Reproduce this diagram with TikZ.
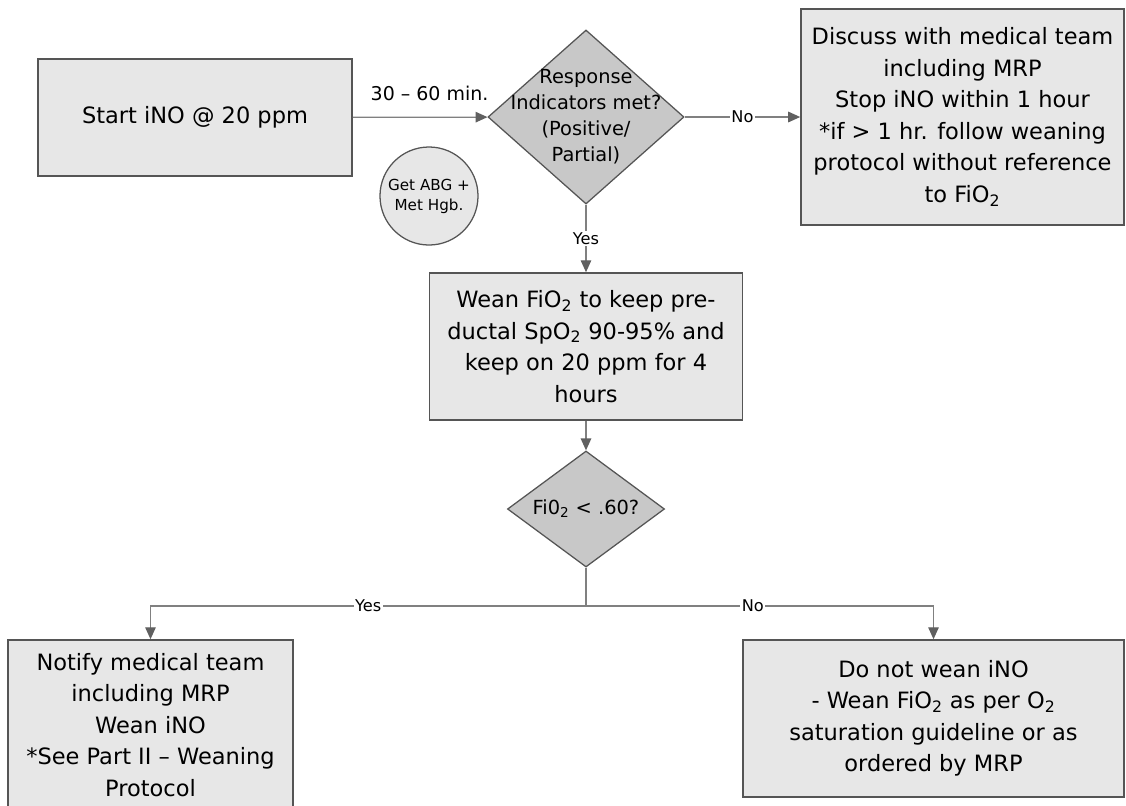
\documentclass[tikz,border=0pt]{standalone}
\usepackage{fontspec}
\setmainfont{DejaVu Sans}
\usetikzlibrary{arrows.meta,shapes.geometric}
\usepackage{xcolor}
\definecolor{boxgray}{RGB}{231,231,231}
\definecolor{diagray}{RGB}{200,200,200}
\definecolor{edgegray}{RGB}{85,85,85}
\definecolor{linegray}{RGB}{128,128,128}
\definecolor{tipgray}{RGB}{96,96,96}
\tikzset{
    stepbox/.style={
        draw=edgegray,line width=1.1pt,fill=boxgray,
        align=center,inner sep=0pt,
        font=\fontsize{16}{22.4}\selectfont
    },
    decision/.style={
        draw=edgegray,line width=0.9pt,fill=diagray,
        diamond,inner sep=0pt
    },
    dtext/.style={
        align=center,inner sep=0pt,
        font=\fontsize{13.8}{18.5}\selectfont
    },
    arrow/.style={
        -{Triangle[length=8.5pt,width=7.5pt,color=tipgray]},
        line width=0.9pt,draw=linegray
    },
    lbl/.style={
        font=\fontsize{11.5}{14}\selectfont,fill=white,inner sep=1pt
    }
}

\begin{document}
\begin{tikzpicture}[x=0.025cm,y=-0.025cm]

\useasboundingbox (0,0) rectangle (1126,805);
\clip (0,0) rectangle (1126,805);

\node[stepbox,minimum width=7.85cm,minimum height=2.925cm]
(start) at (195,117.5)
{Start iNO @ 20 ppm};

\node[decision,minimum width=4.9cm,minimum height=4.35cm,
label={[dtext]center:Response\\Indicators met?\\(Positive/\\Partial)}]
(d1) at (586,117) {};

\node[circle,draw=edgegray,line width=0.9pt,fill=boxgray,
minimum size=2.45cm,inner sep=0pt,align=center,
font=\fontsize{10.8}{14.2}\selectfont]
(abg) at (429,196)
{Get ABG +\\Met Hgb.};

\node[stepbox,minimum width=8.075cm,minimum height=5.4cm]
(discuss) at (962.5,117)
{
Discuss with medical team\\
including MRP\\
Stop iNO within 1 hour\\
*if > 1 hr. follow weaning\\
protocol without reference\\
to FiO\textsubscript{2}
};

\node[stepbox,minimum width=7.825cm,minimum height=3.675cm]
(wean) at (586,346.5)
{
Wean FiO\textsubscript{2} to keep pre-\\
ductal SpO\textsubscript{2} 90-95\% and\\
keep on 20 ppm for 4\\
hours
};

\node[decision,minimum width=3.925cm,minimum height=2.9cm,
label={[dtext]center:Fi0\textsubscript{2} < .60?}]
(d2) at (586,509) {};

\coordinate (j) at (586,606);

\node[stepbox,minimum width=7.125cm,minimum height=4.25cm]
(notify) at (150.5,725)
{
Notify medical team\\
including MRP\\
Wean iNO\\
*See Part II – Weaning\\
Protocol
};

\node[stepbox,minimum width=9.525cm,minimum height=3.925cm]
(donot) at (933.5,718.5)
{
Do not wean iNO\\
- Wean FiO\textsubscript{2} as per O\textsubscript{2}\\
saturation guideline or as\\
ordered by MRP
};

\draw[arrow] (start) -- node[pos=0.57,yshift=17pt,
font=\fontsize{13.5}{16}\selectfont] (time) {30 – 60 min.} (d1);
\draw[arrow] (d1) -- node[lbl] (no1) {No} (discuss);
\draw[arrow] (d1) -- node[lbl] (yes1) {Yes} (wean);
\draw[arrow] (wean) -- (d2);
\draw[line width=0.9pt,draw=linegray] (d2) -- (j);
\draw[arrow] (j) -| node[lbl,pos=0.25] (yes2) {Yes} (notify);
\draw[arrow] (j) -| node[lbl,pos=0.24] (no2) {No} (donot);

\end{tikzpicture}
\end{document}
